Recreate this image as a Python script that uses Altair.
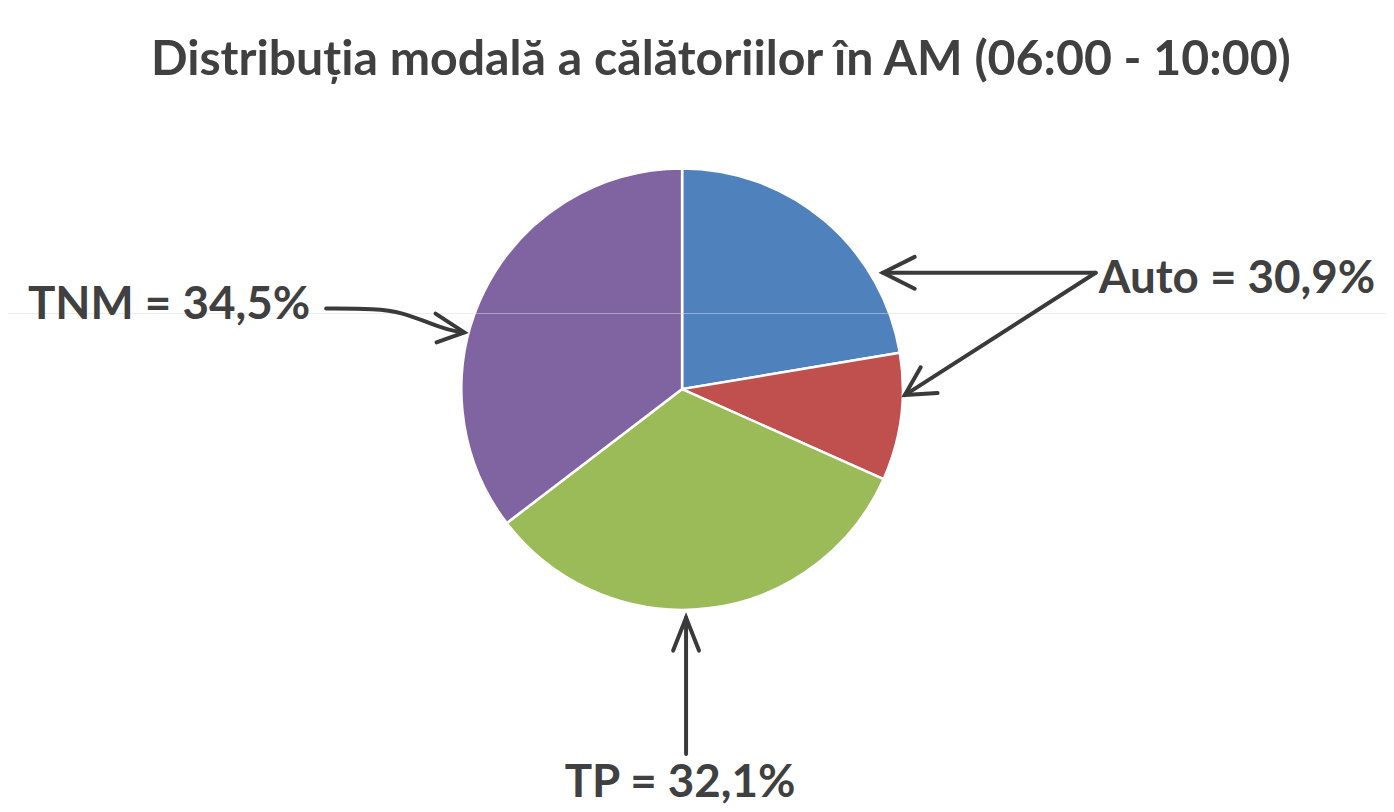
import altair as alt
import pandas as pd

# ---- data ----
categories = ["Auto (șofer)", "Auto (pasager)", "TP", "TNM"]
values = [21.8, 9.1, 32.1, 34.5]
colors = ["#4F81BD", "#C0504D", "#9BBB59", "#8064A2"]

title_text = "Distribuția modală a călătoriilor în AM (06:00 - 10:00)"
label_texts = ["TNM = 34,5%", "Auto = 30,9%", "TP = 32,1%"]

# ---- layout (image pixel coordinates) ----
W, H = 1386, 800
OFF = 8
cx, cy, R = 686, 389, 222
FONT = "Lato"
FS = 46
FS_TITLE = 48.5
TXT = "#404040"
ARROW = "#3a3a3a"

xs = alt.Scale(domain=[OFF, OFF + W], nice=False, zero=False)
ys = alt.Scale(domain=[OFF, OFF + H], nice=False, zero=False, reverse=True)

pie_df = pd.DataFrame({"cat": categories, "value": values, "idx": list(range(len(values)))})
pie = alt.Chart(pie_df).mark_arc(outerRadius=R, stroke="white", strokeWidth=2.5).encode(
    theta=alt.Theta("value:Q", stack=True),
    color=alt.Color("cat:N", scale=alt.Scale(domain=categories, range=colors), legend=None),
    order=alt.Order("idx:Q"),
    x=alt.value(cx - OFF),
    y=alt.value(cy - OFF),
)

# faint scan line across the picture
scan_df = pd.DataFrame({"x": [OFF], "x2": [OFF + W], "y": [313]})
scan = alt.Chart(scan_df).mark_rule(color="#dcdcdc", opacity=0.55, strokeWidth=1).encode(
    x=alt.X("x:Q", scale=xs, axis=None),
    x2="x2:Q",
    y=alt.Y("y:Q", scale=ys, axis=None),
)

# straight arrow segments (shafts and heads)
seg_rows = [
    # Auto upper
    ("a1", 1102, 272), ("a1", 888, 272),
    ("a1h1", 920, 256), ("a1h1", 888, 272), ("a1h1", 920, 288),
    # Auto lower
    ("a2", 1102, 272), ("a2", 910, 395),
    ("a2h", 926, 367), ("a2h", 910, 395), ("a2h", 943, 393),
    # TP
    ("tp", 690, 756), ("tp", 690, 619),
    ("tph", 677, 652), ("tph", 690, 619), ("tph", 703, 652),
    # TNM head
    ("tnh", 438, 313), ("tnh", 467, 332), ("tnh", 439, 342),
]
seg_df = pd.DataFrame(seg_rows, columns=["seg", "x", "y"])
seg_df["o"] = range(len(seg_df))
segs = alt.Chart(seg_df).mark_line(color=ARROW, strokeWidth=4, strokeCap="round", strokeJoin="miter").encode(
    x=alt.X("x:Q", scale=xs, axis=None),
    y=alt.Y("y:Q", scale=ys, axis=None),
    detail="seg:N",
    order="o:Q",
)

curve_df = pd.DataFrame({
    "x": [328, 378, 405, 430, 452, 466],
    "y": [308, 308, 312, 322, 330, 332],
})
curve_df["o"] = range(len(curve_df))
curve = alt.Chart(curve_df).mark_line(color=ARROW, strokeWidth=4, strokeCap="round", interpolate="basis").encode(
    x=alt.X("x:Q", scale=xs, axis=None),
    y=alt.Y("y:Q", scale=ys, axis=None),
    order="o:Q",
)

lab_df = pd.DataFrame({
    "t": label_texts,
    "x": [28, 1105, 684],
    "y": [318, 292, 799],
    "al": ["left", "left", "center"],
})
labels_left = alt.Chart(lab_df[lab_df.al == "left"]).mark_text(
    font=FONT, fontSize=FS, fontWeight="bold", color=TXT, align="left", baseline="alphabetic"
).encode(x=alt.X("x:Q", scale=xs, axis=None), y=alt.Y("y:Q", scale=ys, axis=None), text="t:N")
labels_center = alt.Chart(lab_df[lab_df.al == "center"]).mark_text(
    font=FONT, fontSize=FS, fontWeight="bold", color=TXT, align="center", baseline="alphabetic"
).encode(x=alt.X("x:Q", scale=xs, axis=None), y=alt.Y("y:Q", scale=ys, axis=None), text="t:N")

title_df = pd.DataFrame({"t": [title_text], "x": [725], "y": [73]})
title = alt.Chart(title_df).mark_text(
    font=FONT, fontSize=FS_TITLE, fontWeight="bold", color=TXT, align="center", baseline="alphabetic"
).encode(x=alt.X("x:Q", scale=xs, axis=None), y=alt.Y("y:Q", scale=ys, axis=None), text="t:N")

chart = alt.layer(pie, scan, segs, curve, labels_left, labels_center, title).properties(
    width=W, height=H, padding=0, autosize=alt.AutoSizeParams(type="none"), background="white"
).configure_view(stroke=None)

chart.save("out.html", embed_options={"renderer": "svg", "actions": False})
